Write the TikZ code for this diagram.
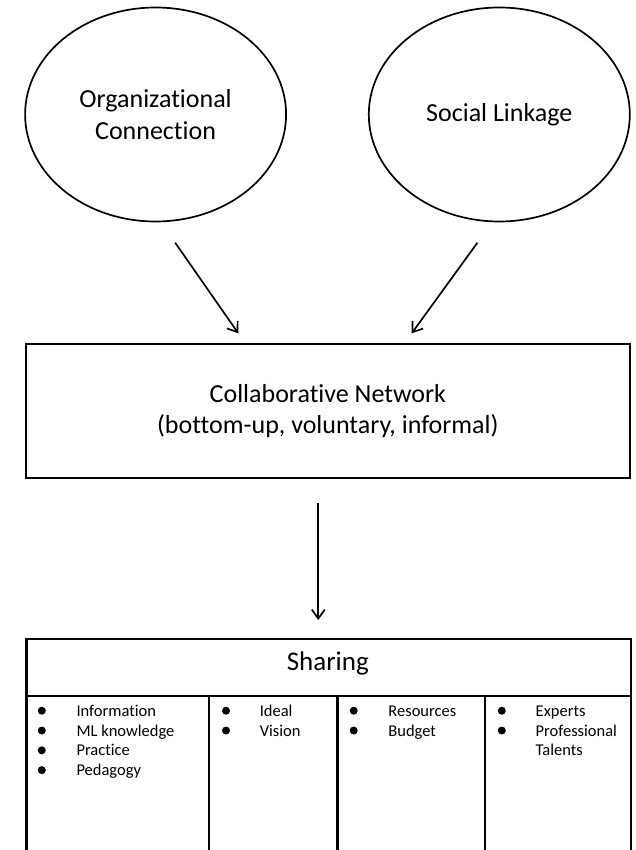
\documentclass[tikz,border=0pt]{standalone}
\usepackage{fontspec}
\setmainfont{Carlito}[Ligatures={NoCommon}]
\usetikzlibrary{shapes.geometric,arrows.meta}
\begin{document}
\begin{tikzpicture}[x=1pt,y=-1pt,
  circ/.style={draw,line width=1.7pt,ellipse,minimum width=261pt,minimum height=214pt,inner sep=0pt,align=center,font=\fontsize{26}{31.7}\selectfont},
  box/.style={draw,line width=2.3pt,rectangle,inner sep=0pt},
  arr/.style={line width=1.7pt,-{Straight Barb[length=9pt,width=13pt,line width=1.7pt]}},
  bul/.style={circle,fill=black,inner sep=0pt,minimum size=8pt},
  item/.style={anchor=base west,inner sep=0pt,font=\fontsize{16.5}{19.8}\selectfont},
  col/.style={draw,line width=2.3pt,rectangle,inner sep=0pt,anchor=north west,minimum height=180pt}
  ]
\clip (0,0) rectangle (636,850);
\fill[white] (0,0) rectangle (636,850);
% top ellipses
\node[circ] (org) at (155.6,114.5) {Organizational\\Connection};
\node[circ] (soc) at (499.3,114.5) {Social Linkage};
% middle box
\node[box,minimum width=604.3pt,minimum height=134pt,align=center,font=\fontsize{26}{31.6}\selectfont] (net) at (327.85,411) {Collaborative Network\\(bottom-up, voluntary, informal)};
% arrows
\coordinate (a1s) at (175.2,242.7); \coordinate (a1e) at (238.3,333.3);
\coordinate (a2s) at (477.4,242.7); \coordinate (a2e) at (411.7,333.3);
\coordinate (a3s) at (318.3,503.3); \coordinate (a3e) at (318.3,620);
\draw[arr] (a1s) -- (a1e);
\draw[arr] (a2s) -- (a2e);
\draw[arr] (a3s) -- (a3e);
% table
\node[col,minimum width=182.8pt] (c1) at (25.2,695) {};
\node[col,minimum width=128.3pt] (c2) at (208,695) {};
\node[col,minimum width=147.7pt] (c3) at (336.3,695) {};
\node[col,minimum width=145.7pt] (c4) at (484,695) {};
\node[box,anchor=north west,minimum width=604.8pt,minimum height=57.3pt] (head) at (25.2,637.7) {};
\node[font=\fontsize{27}{32}\selectfont,inner sep=0pt] (sharing) at (327.8,663) {Sharing};
% column 1
\node[bul] (b11) at (41.8,710.7) {}; \node[item] (t11) at (76.3,716.2) {Information};
\node[bul] (b12) at (41.8,730.5) {}; \node[item] (t12) at (76.3,736.0) {ML knowledge};
\node[bul] (b13) at (41.8,750.3) {}; \node[item] (t13) at (76.3,755.8) {Practice};
\node[bul] (b14) at (41.8,770.1) {}; \node[item] (t14) at (76.3,775.6) {Pedagogy};
% column 2
\node[bul] (b21) at (226,710.7) {}; \node[item] (t21) at (259.6,716.2) {Ideal};
\node[bul] (b22) at (226,730.5) {}; \node[item] (t22) at (259.6,736.0) {Vision};
% column 3
\node[bul] (b31) at (353.7,710.7) {}; \node[item] (t31) at (388.2,716.2) {Resources};
\node[bul] (b32) at (353.7,730.5) {}; \node[item] (t32) at (388.2,736.0) {Budget};
% column 4
\node[bul] (b41) at (501.8,710.7) {}; \node[item] (t41) at (535.5,716.2) {Experts};
\node[bul] (b42) at (501.8,730.5) {}; \node[item] (t42) at (535.5,736.0) {Professional};
\node[item] (t43) at (535.5,755.8) {Talents};
\end{tikzpicture}
\end{document}
